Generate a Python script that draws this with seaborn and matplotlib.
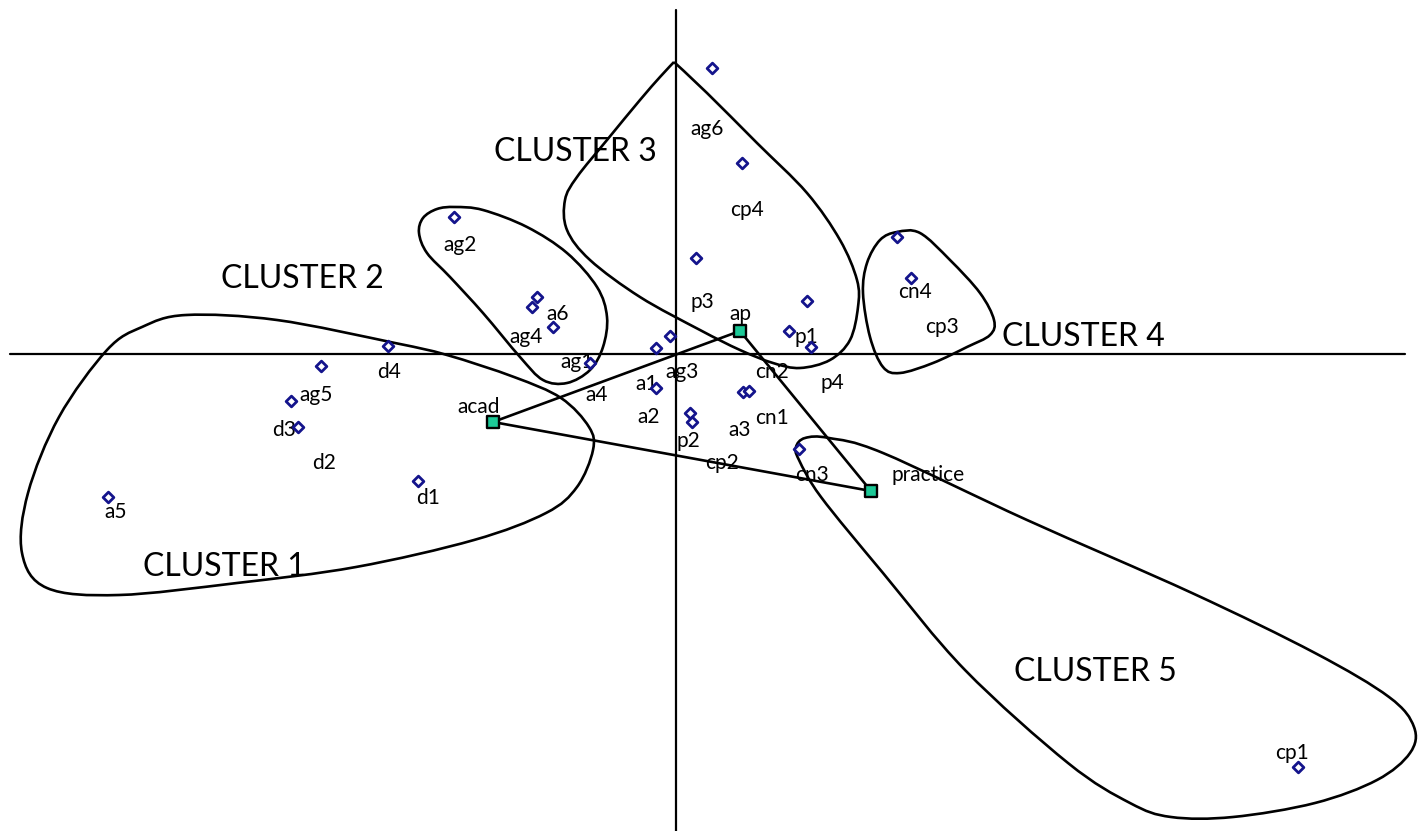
import numpy as np
import pandas as pd
import matplotlib
matplotlib.use("Agg")
import matplotlib.pyplot as plt
from matplotlib.path import Path
from matplotlib.patches import PathPatch
import seaborn as sns

# ---- coordinates of the variable categories on the two principal dimensions ----
item_names = ["a5", "ag5", "d3", "d2", "d4", "d1", "ag2", "a6", "ag4", "a4",
              "ag1", "ag3", "a2", "a1", "p2", "cp2", "a3", "cn1", "cn3", "p1",
              "cn2", "p4", "ag6", "cp4", "p3", "cn4", "cp3", "cp1"]
item_dim1 = [-1.420, -0.9625, -0.945, -0.8875, -0.720, -0.645, -0.555, -0.3475, -0.360, -0.3075,
             -0.215, -0.050, -0.015, -0.050, 0.035, 0.040, 0.1675, 0.1825, 0.3075, 0.2825,
             0.3275, 0.3375, 0.090, 0.165, 0.050, 0.5525, 0.5875, 1.555]
item_dim2 = [-0.358, -0.1175, -0.1825, -0.030, 0.020, -0.3175, 0.3425, 0.1425, 0.1175, 0.0675,
             -0.0225, 0.015, 0.045, -0.085, -0.1475, -0.170, -0.095, -0.0925, -0.2375, 0.0575,
             0.1325, 0.0175, 0.715, 0.4775, 0.240, 0.2925, 0.190, -1.0325]
# where each category name is written
item_label_x = [-1.4000, -0.900, -0.9800, -0.8800, -0.7175, -0.620, -0.540, -0.295, -0.375, -0.1975,
                -0.2475, 0.015, -0.0675, -0.0725, 0.030, 0.115, 0.160, 0.240, 0.340, 0.325,
                0.240, 0.390, 0.0775, 0.1775, 0.065, 0.5975, 0.665, 1.540]
item_label_y = [-0.395, -0.1025, -0.190, -0.2725, -0.045, -0.360, 0.2725, 0.100, 0.0425, -0.1025,
                -0.020, -0.045, -0.1575, -0.075, -0.2175, -0.2725, -0.190, -0.160, -0.3025, 0.0425,
                -0.045, -0.0725, 0.5625, 0.360, 0.130, 0.155, 0.0675, -0.9975]

# supplementary profiles (joined as a triangle)
profile_names = ["acad", "ap", "practice"]
profile_dim1 = [-0.4575, 0.160, 0.4875]
profile_dim2 = [-0.170, 0.0575, -0.3425]
profile_label_x = [-0.4925, 0.160, 0.630]
profile_label_y = [-0.1325, 0.100, -0.3025]

# cluster captions
cluster_names = ["CLUSTER 1", "CLUSTER 2", "CLUSTER 3", "CLUSTER 4", "CLUSTER 5"]
cluster_label_x = [-1.130, -0.935, -0.2525, 1.0175, 1.0475]
cluster_label_y = [-0.5325, 0.1875, 0.505, 0.0425, -0.795]

# hand-drawn cluster boundaries: (x, y) anchor points of closed smooth curves
cluster1_outline = [(-1.225, 0.0975), (-0.9975, 0.085), (-0.7025, 0.0275), (-0.5725, -0.0025),
                    (-0.405, -0.0575), (-0.2875, -0.110), (-0.2175, -0.1825), (-0.2075, -0.240),
                    (-0.2475, -0.3325), (-0.325, -0.3975), (-0.505, -0.465), (-0.800, -0.5325),
                    (-1.0975, -0.5725), (-1.3925, -0.6025), (-1.5725, -0.585), (-1.635, -0.4975),
                    (-1.620, -0.3475), (-1.5425, -0.1575), (-1.4225, 0.010), (-1.335, 0.0675)]
cluster2_outline = [(-0.5525, 0.3675), (-0.4825, 0.360), (-0.3725, 0.3175), (-0.2725, 0.2525),
                    (-0.1975, 0.1675), (-0.1725, 0.0925), (-0.1825, 0.0175), (-0.215, -0.040),
                    (-0.2725, -0.0725), (-0.3325, -0.065), (-0.390, -0.0075), (-0.4825, 0.1025),
                    (-0.565, 0.1925), (-0.6225, 0.2525), (-0.6425, 0.3025), (-0.6325, 0.340),
                    (-0.5975, 0.3625)]
cluster3_outline = [(-0.005, 0.730), (0.0775, 0.6525), (0.2025, 0.5275), (0.3275, 0.4025),
                    (0.410, 0.285), (0.4525, 0.185), (0.455, 0.1175), (0.435, 0.035),
                    (0.385, -0.015), (0.310, -0.035), (0.2425, -0.0225), (0.160, 0.010),
                    (0.060, 0.060), (-0.090, 0.1425), (-0.215, 0.235), (-0.2725, 0.310),
                    (-0.2775, 0.385), (-0.2475, 0.4425), (-0.1725, 0.535), (-0.090, 0.635),
                    (-0.040, 0.6925)]
cluster4_outline = [(0.5525, 0.305), (0.610, 0.3025), (0.685, 0.235), (0.760, 0.1525),
                    (0.795, 0.085), (0.785, 0.0475), (0.7275, 0.0175), (0.6425, -0.0225),
                    (0.560, -0.0475), (0.5175, -0.0325), (0.485, 0.0425), (0.4675, 0.1525),
                    (0.4775, 0.2275), (0.510, 0.285)]
cluster5_outline = [(0.3225, -0.210), (0.3825, -0.210), (0.5175, -0.2475), (0.8775, -0.415),
                    (1.290, -0.5975), (1.5975, -0.7475), (1.7825, -0.8575), (1.845, -0.9325),
                    (1.835, -0.9975), (1.7525, -1.065), (1.5975, -1.1225), (1.3925, -1.1575),
                    (1.2375, -1.1575), (1.135, -1.1225), (0.980, -1.0225), (0.7225, -0.790),
                    (0.5175, -0.5475), (0.3625, -0.3575), (0.3075, -0.265), (0.300, -0.2325)]


def closed_curve(points, corners=()):
    """Closed Catmull-Rom curve expressed as cubic Bezier segments."""
    p = np.asarray(points, dtype=float)
    n = len(p)
    tang = np.array([(p[(i + 1) % n] - p[i - 1]) / 6.0 for i in range(n)])
    for c in corners:
        tang[c] = 0.0
    verts = [p[0]]
    codes = [Path.MOVETO]
    for i in range(n):
        j = (i + 1) % n
        verts += [p[i] + tang[i], p[j] - tang[j], p[j]]
        codes += [Path.CURVE4] * 3
    return Path(verts, codes)


sns.set_theme(style="white")
plt.rcParams["font.family"] = ["Lato", "DejaVu Sans"]

fig = plt.figure(figsize=(14.26, 8.31), dpi=100)
ax = fig.add_axes([0, 0, 1, 1])
ax.set_xlim(-1.69, 1.875)
ax.set_ylim(-1.1925, 0.885)
ax.axis("off")

# principal axes
ax.plot([-1.665, 1.8225], [0, 0], color="black", lw=1.6, zorder=1)
ax.plot([0, 0], [0.86, -1.1925], color="black", lw=1.6, zorder=1)

# cluster boundaries
outlines = [(cluster1_outline, ()), (cluster2_outline, ()), (cluster3_outline, (0,)),
            (cluster4_outline, ()), (cluster5_outline, ())]
for pts, corners in outlines:
    ax.add_patch(PathPatch(closed_curve(pts, corners), fill=False,
                           edgecolor="black", lw=1.9, zorder=2))

# triangle joining the supplementary profiles
tri = pd.DataFrame({"dim1": profile_dim1 + profile_dim1[:1],
                    "dim2": profile_dim2 + profile_dim2[:1]})
sns.lineplot(data=tri, x="dim1", y="dim2", sort=False, estimator=None,
             color="black", lw=1.9, ax=ax, zorder=2)

items = pd.DataFrame({"name": item_names, "dim1": item_dim1, "dim2": item_dim2})
sns.scatterplot(data=items, x="dim1", y="dim2", marker="D", s=30,
                facecolor="white", edgecolor="#14148c", linewidth=2.0, ax=ax, zorder=4)

profiles = pd.DataFrame({"name": profile_names, "dim1": profile_dim1, "dim2": profile_dim2})
sns.scatterplot(data=profiles, x="dim1", y="dim2", marker="s", s=85,
                color="#1cc896", edgecolor="black", linewidth=1.7, ax=ax, zorder=5)

for name, lx, ly in zip(item_names, item_label_x, item_label_y):
    ax.text(lx, ly, name, fontsize=15, ha="center", va="center", color="black", zorder=3)
for name, lx, ly in zip(profile_names, profile_label_x, profile_label_y):
    ax.text(lx, ly, name, fontsize=15, ha="center", va="center", color="black", zorder=3)
for name, lx, ly in zip(cluster_names, cluster_label_x, cluster_label_y):
    ax.text(lx, ly, name, fontsize=23, ha="center", va="center", color="black", zorder=3)

ax.set_xlabel("")
ax.set_ylabel("")
fig.savefig("out.png", dpi=100, facecolor="white")
